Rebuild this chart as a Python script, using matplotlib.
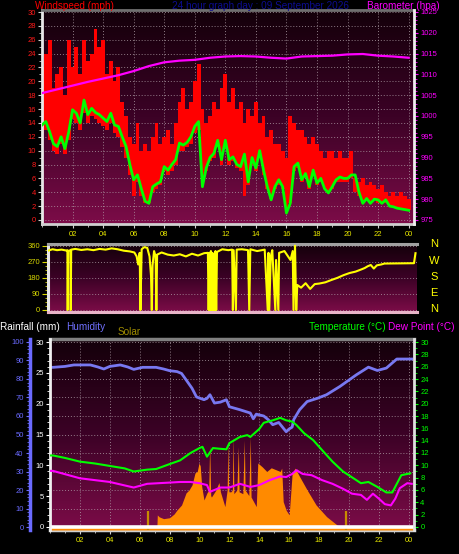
import matplotlib
matplotlib.use('Agg')
import matplotlib.pyplot as plt
import numpy as np
from matplotlib.colors import LinearSegmentedColormap
from matplotlib.ticker import MultipleLocator

plt.rcParams['font.family'] = ['Liberation Sans', 'DejaVu Sans']

# ---------------- data ----------------
hour_ticks = [2, 4, 6, 8, 10, 12, 14, 16, 18, 20, 22, 24]
hour_labels = ['02', '04', '06', '08', '10', '12', '14', '16', '18', '20', '22', '00']

# wind, 15 minute samples (mph)
wind_hours = np.arange(0, 24.01, 0.25)
wind_avg = [13.7, 14.2, 12.7, 11.0,
            10.6, 12.0, 10.3, 12.7,
            15.9, 15.4, 14.0, 17.3,
            15.2, 16.1, 15.5, 15.2,
            14.7, 14.2, 15.4, 13.7,
            13.5, 12.0, 10.6, 8.0,
            5.8, 6.5, 4.5, 2.7,
            2.4, 4.8, 5.2, 5.5,
            7.7, 7.2, 8.0, 8.7,
            11.1, 10.8, 11.2, 12.0,
            13.5, 14.2, 4.8, 7.5,
            9.0, 9.6, 11.5, 8.7,
            11.5, 8.7, 9.1, 8.0,
            7.7, 9.5, 5.5, 9.0,
            7.5, 10.0, 7.2, 4.8,
            2.9, 4.8, 5.8, 4.8,
            1.0, 2.4, 7.7, 8.2,
            5.8, 6.7, 4.8, 7.2,
            5.3, 6.0, 4.5, 3.9,
            4.8, 5.8, 6.2, 6.0,
            6.0, 6.5, 6.5, 4.0,
            2.4, 3.1, 2.4, 3.0,
            2.9, 2.4, 2.9, 2.0,
            1.9, 1.7, 1.6, 1.5,
            1.4]
gust_low = [12.5, 13.0, 11.5, 10.0,
            9.5, 11.0, 9.5, 11.5,
            14.5, 14.0, 13.0, 15.5,
            14.0, 15.0, 14.5, 14.0,
            13.5, 13.0, 14.0, 12.5,
            12.0, 10.5, 9.0, 6.5,
            3.5, 5.5, 3.5, 2.5,
            2.5, 4.0, 4.5, 5.0,
            7.0, 6.5, 7.0, 8.0,
            10.0, 10.0, 10.5, 11.0,
            12.5, 13.0, 5.0, 7.0,
            8.5, 9.0, 10.5, 8.0,
            10.5, 8.0, 8.5, 7.5,
            7.0, 3.5, 5.0, 8.0,
            7.0, 9.0, 6.5, 4.5,
            3.0, 4.5, 5.0, 4.5,
            1.5, 2.5, 7.0, 7.5,
            5.5, 6.0, 4.5, 6.5,
            5.0, 5.5, 4.5, 4.0,
            4.5, 5.5, 5.5, 5.5,
            5.5, 6.0, 4.0, 3.5,
            2.5, 3.0, 2.5, 3.0,
            2.5, 2.5, 2.5, 2.0,
            2.0, 1.8, 1.7, 1.6,
            1.5]
gust_high = [22, 24, 26, 19,
             21, 22, 18, 26,
             22, 25, 21, 26,
             23, 24, 27.5, 25,
             26, 21, 23, 20,
             22, 17, 15, 12,
             11, 14, 10, 11,
             10, 12, 14, 11,
             12, 13, 11, 14,
             17, 19, 16, 17,
             20, 22.5, 16, 14,
             15, 17, 16, 19,
             21, 17, 19, 16,
             17, 14, 16, 15,
             17, 14, 15, 12,
             13, 11, 11, 10,
             9, 15, 14, 13,
             13, 12, 11, 12,
             11, 10, 9, 10,
             10, 9, 10, 9,
             9, 10, 6, 5.5,
             6, 5, 5.5, 5,
             4.5, 5, 4, 3.5,
             4, 3.5, 4, 3.5,
             3]

baro_hours = list(range(25))
baro = [1005.5, 1006.4, 1007.3, 1008.2, 1009.0, 1009.8, 1010.8, 1012.0, 1012.9,
        1013.3, 1013.5, 1014.0, 1014.3, 1014.4, 1014.3, 1014.0, 1013.8, 1014.3,
        1014.4, 1014.5, 1014.8, 1014.9, 1014.5, 1014.3, 1014.0]

dir_hours = [0.0, 0.3, 0.6, 0.9, 1.2, 1.28, 1.3, 1.33, 1.48, 1.5,
             1.53, 1.8, 2.2, 2.6, 3.0, 3.4, 3.8, 4.2, 4.6, 5.0,
             5.4, 5.7, 5.85, 5.95, 6.05, 6.1, 6.18, 6.35, 6.55, 6.7,
             6.8, 6.85, 6.9, 7.0, 7.1, 7.15, 7.2, 7.5, 7.9, 8.3,
             8.7, 9.1, 9.5, 9.9, 10.3, 10.55, 10.6, 10.65, 10.7, 10.75,
             10.8, 10.85, 10.9, 10.95, 11.0, 11.05, 11.1, 11.15, 11.5, 11.9,
             12.15, 12.2, 12.25, 12.4, 12.45, 12.8, 13.2, 13.28, 13.35, 13.8,
             14.3, 14.5, 14.55, 14.6, 14.7, 14.8, 15.0, 15.05, 15.2, 15.25,
             15.6, 16.0, 16.15, 16.2, 16.3, 16.38, 16.45, 16.7, 17.0, 17.3,
             17.6, 17.9, 18.3, 18.7, 19.1, 19.5, 19.9, 20.3, 20.7, 20.9,
             21.1, 21.3, 21.5, 21.7, 22.0, 22.2, 24.15, 24.25]
dir_deg = [332, 340, 335, 338, 333, 335, 0, 330, 335, 0,
           338, 342, 336, 340, 335, 342, 338, 345, 340, 332,
           328, 322, 300, 255, 320, 0, 340, 352, 348, 300,
           190, 0, 250, 330, 300, 0, 310, 322, 310, 305,
           312, 300, 315, 305, 318, 320, 0, 320, 0, 330,
           0, 320, 0, 310, 0, 330, 0, 325, 340, 335,
           338, 0, 335, 0, 338, 340, 335, 0, 340, 330,
           338, 0, 320, 0, 300, 335, 0, 280, 0, 320,
           330, 280, 330, 0, 360, 0, 140, 125, 150, 118,
           145, 148, 155, 168, 180, 195, 207, 215, 228, 235,
           245, 252, 232, 250, 255, 260, 262, 318]
compass = ['N', 'W', 'S', 'E', 'N']

hum_hours = [0, 0.2, 1.0, 1.6, 2.7, 3.2, 3.6, 4.0, 4.7, 5.2,
             5.6, 6.2, 7.1, 7.6, 8.0, 8.5, 8.8, 9.1, 9.5, 9.8,
             10.3, 10.5, 10.7, 11.0, 11.4, 11.8, 12.0, 12.7, 13.4, 13.6,
             13.8, 14.3, 14.6, 14.9, 15.3, 15.8, 16.0, 16.2, 16.3, 16.7,
             17.2, 17.9, 18.5, 19.4, 20.5, 21.3, 21.9, 22.5, 23.2, 24.2]
humidity = [86.3, 86.3, 86.8, 87.6, 87.6, 86.5, 85.4, 86.8, 87.6, 86.5,
            85.2, 86.3, 86.3, 85.4, 84.5, 84.0, 83.0, 79.6, 75.0, 70.3,
            68.8, 69.5, 71.5, 67.0, 67.5, 68.8, 65.0, 63.4, 61.6, 58.5,
            61.0, 60.0, 58.0, 55.3, 56.5, 51.5, 53.0, 54.0, 58.0, 63.4,
            67.8, 69.6, 71.5, 76.0, 82.3, 86.4, 84.6, 85.9, 90.8, 90.8]

temp_hours = [0, 0.2, 1, 2, 3, 4, 5, 5.6, 6.5, 7.1,
              8, 8.7, 9.4, 10, 10.2, 10.5, 10.9, 11.3, 11.8, 12,
              12.7, 13.2, 13.4, 14, 14.3, 14.9, 15.4, 15.8, 16.2, 16.5,
              17, 17.6, 18.3, 18.9, 19.6, 20.3, 20.8, 21.3, 21.9, 22.5,
              22.9, 23.2, 23.5, 24.1]
temperature = [11.6, 11.6, 11.2, 10.6, 10.3, 9.9, 9.5, 9.0, 9.3, 9.4,
               10.2, 10.8, 12.0, 12.8, 13.0, 11.4, 12.8, 12.7, 12.6, 13.6,
               14.6, 14.9, 14.6, 15.9, 16.9, 17.3, 17.7, 17.3, 17.1, 16.5,
               15.2, 14.1, 12.2, 10.6, 9.0, 7.9, 7.1, 7.3, 6.5, 5.6,
               5.6, 7.0, 8.4, 8.7]

dew_hours = [0, 0.2, 2, 4, 5.6, 6.5, 8, 8.7, 9.4, 10,
             10.5, 10.7, 11.4, 12, 12.7, 13.4, 14, 14.7, 15.4, 15.8,
             16.2, 16.5, 16.9, 17.5, 18.2, 18.9, 19.6, 20.2, 20.8, 21.2,
             21.6, 22, 22.4, 22.8, 23.1, 23.4, 23.9, 24.2]
dew_point = [9.1, 9.1, 7.9, 7.3, 6.4, 7.0, 7.2, 7.3, 7.3, 7.1,
             6.8, 5.7, 6.4, 6.4, 7.0, 6.5, 6.8, 7.6, 8.2, 8.1,
             8.6, 9.2, 8.6, 8.4, 7.6, 7.0, 6.2, 5.4, 5.2, 4.4,
             5.4, 4.6, 3.7, 3.5, 4.6, 6.3, 7.1, 7.0]

solar_hours = [0, 7.15, 7.18, 7.3, 7.6, 8.0, 8.3, 8.5, 8.8, 9.1,
               9.3, 9.5, 9.7, 9.85, 9.97, 10.05, 10.15, 10.3, 10.5, 10.62,
               10.68, 10.75, 10.8, 11.1, 11.3, 11.4, 11.7, 11.85, 11.9, 11.95,
               12.1, 12.2, 12.25, 12.3, 12.5, 12.6, 12.65, 12.9, 13.0, 13.05,
               13.3, 13.4, 13.45, 13.8, 13.9, 14.2, 14.5, 14.8, 15.1, 15.4,
               15.5, 15.6, 15.8, 16.0, 16.2, 16.4, 16.7, 17.2, 17.8, 18.5,
               19.2, 19.4, 24.35]
solar = [0, 0, 65, 55, 45, 50, 70, 92, 119, 184,
         200, 227, 292, 300, 346, 330, 218, 146, 184, 200,
         443, 170, 162, 200, 240, 190, 110, 200, 470, 190,
         190, 200, 488, 180, 200, 434, 190, 180, 470, 200,
         170, 488, 162, 110, 346, 325, 300, 320, 310, 300,
         318, 137, 90, 65, 292, 318, 272, 200, 119, 56,
         11, 0, 0]
sun_marks = [6.55, 19.8]

rain_hours = [0.2, 24.35]
rain = [0, 0]

# ---------------- styling helpers ----------------
XMAX = 24.35
BG = LinearSegmentedColormap.from_list('bg', ['#7c0c48', '#3c0226', '#14000a'])
GRID = dict(color='#b4a4ac', linestyle=(0, (1, 2)), linewidth=0.7, alpha=0.75)
TICK = 5.5
TITLE = 7.2


def shade(ax, ylo, yhi):
    g = np.linspace(0, 1, 200).reshape(-1, 1)
    ax.imshow(g, extent=[0, XMAX, ylo, yhi], origin='lower', cmap=BG,
              aspect='auto', zorder=0, interpolation='bilinear')
    ax.set_xlim(0, XMAX)
    ax.set_ylim(ylo, yhi)
    ax.set_facecolor('black')


def spines(ax, left=None, right=None, top=None, bottom=None, lw=2):
    for side, col in (('left', left), ('right', right), ('top', top), ('bottom', bottom)):
        if col is None:
            ax.spines[side].set_visible(False)
        else:
            ax.spines[side].set_visible(True)
            ax.spines[side].set_color(col)
            ax.spines[side].set_linewidth(lw)


fig = plt.figure(figsize=(4.6, 5.54), dpi=100, facecolor='black')

# ---------------- wind / barometer ----------------
ax1 = fig.add_axes([42 / 460, 1 - 224 / 554, 372 / 460, 214 / 554])
shade(ax1, -0.58, 30.29)
ax1.set_axisbelow(True)
ax1.set_xticks(hour_ticks)
ax1.set_xticklabels(hour_labels)
ax1.xaxis.set_minor_locator(MultipleLocator(1))
ax1.set_yticks(range(0, 31, 2))
ax1.yaxis.set_minor_locator(MultipleLocator(1))
ax1.grid(True, **GRID)
ax1.bar(wind_hours, np.subtract(gust_high, gust_low), bottom=gust_low, width=0.25,
        color='#ff0000', linewidth=0, zorder=2)
ax1.plot(wind_hours, wind_avg, color='#00ff00', lw=2, zorder=3)
ax1.tick_params(axis='y', which='both', labelcolor='#ff1a1a', color='#d0d0d0', labelsize=TICK, pad=1.5)
ax1.tick_params(axis='x', which='both', labelcolor='#e8e800', color='#d0d0d0', labelsize=TICK, pad=2)
ax1.tick_params(which='major', length=3, width=0.8)
ax1.tick_params(which='minor', length=2, width=0.6)
spines(ax1, left='#e8e8e8', top='#707070', bottom='#d0d0d0')

axp = ax1.twinx()
axp.set_ylim(974.03, 1025.48)
axp.plot(baro_hours, baro, color='#ff00ff', lw=1.6, zorder=4)
axp.set_yticks(range(975, 1026, 5))
axp.yaxis.set_minor_locator(MultipleLocator(1))
axp.tick_params(axis='y', which='both', colors='#ff00ff', labelsize=TICK, pad=1.5)
axp.tick_params(which='major', length=3, width=0.8)
axp.tick_params(which='minor', length=2, width=0.6)
spines(axp, right='#f0f0f0')

# ---------------- wind direction ----------------
ax2 = fig.add_axes([48 / 460, 1 - 312 / 554, 369 / 460, 68 / 554])
shade(ax2, -11.2, 369.5)
ax2.set_axisbelow(True)
ax2.plot(dir_hours, dir_deg, color='#ffff00', lw=1.5, zorder=3)
ax2.set_yticks([0, 90, 180, 270, 360])
ax2.yaxis.set_minor_locator(MultipleLocator(22.5))
ax2.set_xticks([])
ax2.grid(True, axis='y', **GRID)
ax2.tick_params(axis='y', which='both', labelcolor='#d8d800', color='#d8d800', labelsize=TICK, pad=1.5)
ax2.tick_params(which='major', length=4, width=0.8)
ax2.tick_params(which='minor', length=2, width=0.6)
spines(ax2, left='#e8e8e8', top='#a0a0a0', bottom='#e8b4c8', lw=2.2)

for name, ypx in zip(compass, [244, 261, 277, 293, 309]):
    fig.text(434 / 460, 1 - ypx / 554, name, color='#ffff00', fontsize=8,
             ha='center', va='center')

# ---------------- humidity / rain / solar / temperature ----------------
ax3 = fig.add_axes([50 / 460, 1 - 530 / 554, 364 / 460, 191 / 554])
shade(ax3, -1.62, 101.62)
ax3.set_axisbelow(True)
ax3.set_xticks(hour_ticks)
ax3.set_xticklabels(hour_labels)
ax3.xaxis.set_minor_locator(MultipleLocator(1))
ax3.set_yticks(range(0, 101, 10))
ax3.yaxis.set_minor_locator(MultipleLocator(2))
ax3.grid(True, **GRID)
ax3.plot(hum_hours, humidity, color='#7878f0', lw=2, zorder=3)
ax3.spines['left'].set_position(('outward', 14.4))
ax3.tick_params(axis='y', which='both', colors='#6a6aff', labelsize=TICK, pad=1.5)
ax3.tick_params(axis='x', which='both', labelcolor='#e8e800', color='#d0d0d0', labelsize=TICK, pad=2)
ax3.tick_params(which='major', length=3, width=0.8)
ax3.tick_params(which='minor', length=2, width=0.6)
spines(ax3, left='#6a6aff', top='#808080', bottom='#d0d0d0', lw=2.5)

axs = ax3.twinx()
axs.set_ylim(-16.3, 1016.3)
axs.fill_between(solar_hours, solar, -16.3, color='#ff8a00', linewidth=0, zorder=2)
axs.vlines(sun_marks, -16.3, 86, color='#c88c00', lw=1.6, zorder=3)
axs.set_yticks([])
spines(axs)

axr = ax3.twinx()
axr.set_ylim(-0.49, 30.49)
axr.plot(rain_hours, rain, color='white', lw=2.6, zorder=3)
axr.yaxis.set_ticks_position('left')
axr.yaxis.set_label_position('left')
axr.set_yticks(range(0, 31, 5))
axr.yaxis.set_minor_locator(MultipleLocator(1))
axr.tick_params(axis='y', which='both', colors='#ffffff', labelsize=TICK, pad=1.5)
axr.tick_params(which='major', length=3, width=0.8)
axr.tick_params(which='minor', length=2, width=0.6)
spines(axr, left='#f0f0f0')

axt = ax3.twinx()
axt.set_ylim(-0.49, 30.49)
axt.plot(temp_hours, temperature, color='#00ff00', lw=1.5, zorder=3)
axt.plot(dew_hours, dew_point, color='#ff00ff', lw=1.5, zorder=3)
axt.set_yticks(range(0, 31, 2))
axt.yaxis.set_minor_locator(MultipleLocator(1))
axt.tick_params(axis='y', which='both', colors='#00ff00', labelsize=TICK, pad=1.5)
axt.tick_params(which='major', length=3, width=0.8)
axt.tick_params(which='minor', length=2, width=0.6)
spines(axt, right='#e0e0e0')

# ---------------- titles ----------------
def label(x, y, s, c):
    fig.text(x / 460, 1 - y / 554, s, color=c, fontsize=TITLE, ha='left', va='baseline')

label(35, 9, 'Windspeed (mph)', '#ff0000')
label(172, 9, '24 hour graph day : 09 September 2026', '#0c0c90')
label(367, 9, 'Barometer (hpa)', '#ff00ff')
label(0, 330, 'Rainfall (mm)', '#ffffff')
label(66, 330, 'Humidity', '#7070ff')
label(118, 335, 'Solar', '#a08c00')
label(309, 330, 'Temperature (\u00b0C)', '#00ff00')
label(388, 330, 'Dew Point (\u00b0C)', '#ff00ff')

fig.savefig('out.png', dpi=100, facecolor='black')
